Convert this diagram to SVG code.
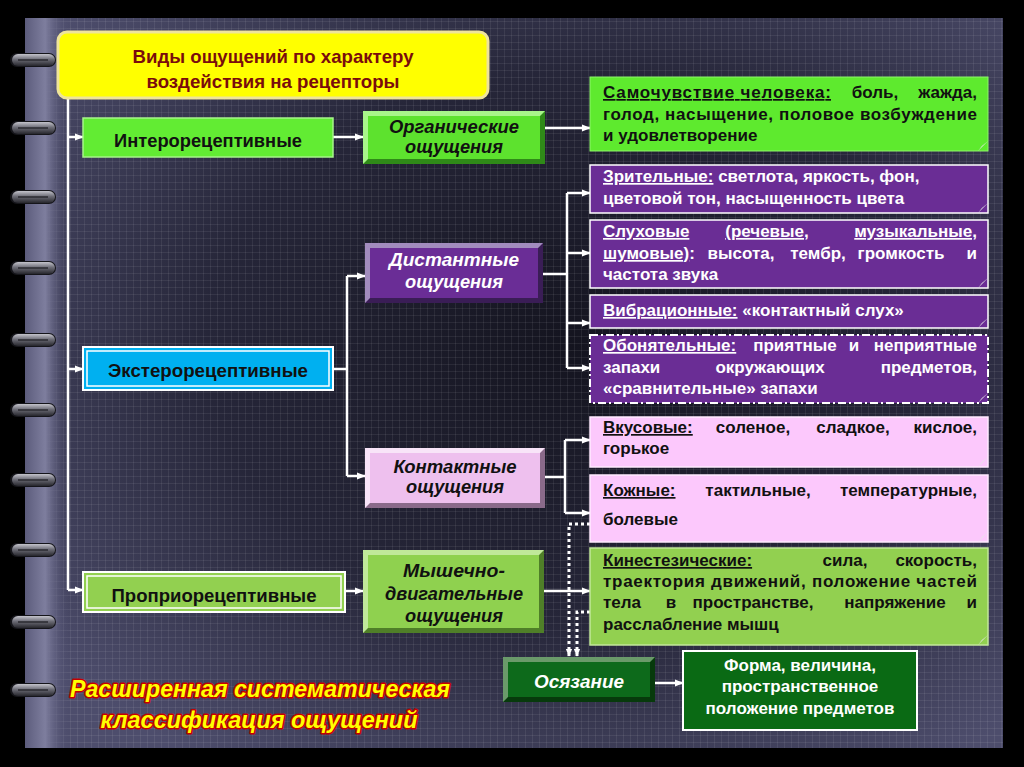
<svg xmlns="http://www.w3.org/2000/svg" width="1024" height="767" viewBox="0 0 1024 767">
<defs>
  <radialGradient id="bg" cx="0.56" cy="0.45" r="0.68">
    <stop offset="0" stop-color="#14141f"/>
    <stop offset="0.55" stop-color="#262639"/>
    <stop offset="1" stop-color="#4d4d6c"/>
  </radialGradient>
  <pattern id="grid" width="7" height="7" patternUnits="userSpaceOnUse">
    <path d="M0 0.5H7M0.5 0V7" stroke="#ffffff" stroke-opacity="0.07" stroke-width="1" fill="none"/>
  </pattern>
  <linearGradient id="spine" x1="0" y1="0" x2="1" y2="0">
    <stop offset="0" stop-color="#5c5c7c"/>
    <stop offset="0.45" stop-color="#7e7e9e"/>
    <stop offset="1" stop-color="#4c4c6c" stop-opacity="0"/>
  </linearGradient>
  <linearGradient id="ringg" x1="0" y1="0" x2="0" y2="1">
    <stop offset="0" stop-color="#c4c4cc"/>
    <stop offset="0.45" stop-color="#6c6c76"/>
    <stop offset="1" stop-color="#26262c"/>
  </linearGradient>
  <g id="ring">
    <rect x="10" y="-7" width="46" height="14" rx="7" fill="#15151a"/>
    <rect x="12" y="-6" width="43" height="12" rx="6" fill="url(#ringg)"/>
    <path d="M18,0 H48" stroke="#2a2a30" stroke-width="1.5"/>
  </g>
  <marker id="ah" viewBox="0 0 10 10" refX="9" refY="5" markerWidth="9" markerHeight="9" markerUnits="userSpaceOnUse" orient="auto">
    <path d="M0,1 L10,5 L0,9 Z" fill="#ffffff"/>
  </marker>
  <marker id="ahs" viewBox="0 0 10 10" refX="9" refY="5" markerWidth="8" markerHeight="8" markerUnits="userSpaceOnUse" orient="auto">
    <path d="M0,1 L10,5 L0,9 Z" fill="#ffffff"/>
  </marker>
</defs>
<style>
  .rt { font-family: "Liberation Sans", Arial, sans-serif; font-weight: bold; font-size: 17px; }
  .bk { fill: #111111; }
  .wh { fill: #ffffff; }
  .u { text-decoration: underline; }
  .c { text-anchor: middle; }
  .e { text-anchor: end; }
  .mid { font-family: "Liberation Sans", Arial, sans-serif; font-weight: bold; font-style: italic; font-size: 18px; text-anchor: middle; }
  .lft { font-family: "Liberation Sans", Arial, sans-serif; font-weight: bold; font-size: 18px; text-anchor: middle; fill: #111111; }
  .ttl { font-family: "Liberation Sans", Arial, sans-serif; font-weight: bold; font-size: 19px; text-anchor: middle; fill: #7a0c0c; }
  .big { font-family: "Liberation Sans", Arial, sans-serif; font-weight: bold; font-style: italic; font-size: 23px; text-anchor: middle; fill: #ffff00; stroke: #c40000; stroke-width: 3; stroke-linejoin: round; paint-order: stroke; }
  .ln { fill: none; stroke: #ffffff; stroke-width: 2.5; }
  .ar { marker-end: url(#ah); }
  .dot { fill: none; stroke: #ffffff; stroke-width: 3; stroke-dasharray: 3 3; marker-end: url(#ahs); }
  .fold { fill: #e6e6e6; }
</style>

<!-- background -->
<rect x="0" y="0" width="1024" height="767" fill="#000000"/>
<rect x="25" y="18" width="978" height="730" fill="url(#bg)"/>
<rect x="25" y="18" width="978" height="730" fill="url(#grid)"/>
<rect x="25" y="18" width="45" height="730" fill="url(#spine)"/>
<use href="#ring" y="60"/>
<use href="#ring" y="128"/>
<use href="#ring" y="197"/>
<use href="#ring" y="268"/>
<use href="#ring" y="340"/>
<use href="#ring" y="410"/>
<use href="#ring" y="480"/>
<use href="#ring" y="550"/>
<use href="#ring" y="622"/>
<use href="#ring" y="690"/>

<!-- connectors -->
<g id="connectors">
  <path class="ln" d="M68,98 V590"/>
  <path class="ln ar" d="M68,137 H83"/>
  <path class="ln ar" d="M68,369 H83"/>
  <path class="ln ar" d="M68,590 H83"/>
  <path class="ln ar" d="M333,137 H363"/>
  <path class="ln ar" d="M545,128 H590"/>
  <path class="ln" d="M333,369 H347 M347,276 V476"/>
  <path class="ln ar" d="M347,276 H365"/>
  <path class="ln ar" d="M347,476 H365"/>
  <path class="ln" d="M543,274 H567 M567,193 V368"/>
  <path class="ln ar" d="M567,193 H590"/>
  <path class="ln ar" d="M567,253 H590"/>
  <path class="ln ar" d="M567,323 H590"/>
  <path class="ln ar" d="M567,368 H590"/>
  <path class="ln" d="M545,477 H565 M565,440 V513"/>
  <path class="ln ar" d="M565,440 H590"/>
  <path class="ln ar" d="M565,513 H590"/>
  <path class="ln ar" d="M345,591 H363"/>
  <path class="ln ar" d="M544,591 H590"/>
  <path class="ln ar" d="M655,683 H683"/>
  <path class="dot" d="M590,524 H569 V656"/>
  <path class="dot" d="M590,612 H577 V656"/>
</g>

<!-- title -->
<g id="title">
  <rect x="58" y="32" width="430" height="66" rx="9" fill="#ffff00" stroke="#efe49a" stroke-width="3"/>
  <text class="ttl" x="273" y="63" textLength="281" lengthAdjust="spacingAndGlyphs">Виды ощущений по характеру</text>
  <text class="ttl" x="273" y="88" textLength="253" lengthAdjust="spacingAndGlyphs">воздействия на рецепторы</text>
</g>

<!-- left column -->
<g id="intero">
  <rect x="83" y="118" width="250" height="39" fill="#62ec33" stroke="#a6f58a" stroke-width="1.5"/>
  <text class="lft" x="208" y="147" textLength="188" lengthAdjust="spacingAndGlyphs">Интерорецептивные</text>
</g>
<g id="extero">
  <rect x="83" y="347" width="250" height="43" fill="#00b0f0" stroke="#ffffff" stroke-width="2"/>
  <rect x="87" y="351" width="242" height="35" fill="none" stroke="#ffffff" stroke-width="1.5"/>
  <text class="lft" x="208" y="377" textLength="200" lengthAdjust="spacingAndGlyphs">Экстерорецептивные</text>
</g>
<g id="proprio">
  <rect x="83" y="572" width="262" height="40" fill="#92d050" stroke="#ffffff" stroke-width="2"/>
  <rect x="87" y="576" width="254" height="32" fill="none" stroke="#ffffff" stroke-width="1.5"/>
  <text class="lft" x="214" y="602" textLength="205" lengthAdjust="spacingAndGlyphs">Проприорецептивные</text>
</g>

<!-- middle column (bevelled) -->
<g id="organic">
  <rect x="363" y="111" width="182" height="53" fill="#a8f58a"/>
  <path d="M545,111 L545,164 L363,164 L368,159 L540,159 L540,116 Z" fill="#2f8a18"/>
  <rect x="368" y="116" width="172" height="43" fill="#5de22e"/>
  <text class="mid bk" x="454" y="133" textLength="130" lengthAdjust="spacingAndGlyphs">Органические</text>
  <text class="mid bk" x="454" y="153" textLength="98" lengthAdjust="spacingAndGlyphs">ощущения</text>
</g>
<g id="distant">
  <rect x="365" y="243" width="178" height="60" fill="#a28cbe"/>
  <path d="M543,243 L543,303 L365,303 L370,298 L538,298 L538,248 Z" fill="#3a1d56"/>
  <rect x="370" y="248" width="168" height="50" fill="#6a2d96"/>
  <text class="mid wh" x="454" y="266" textLength="130" lengthAdjust="spacingAndGlyphs">Дистантные</text>
  <text class="mid wh" x="454" y="288" textLength="98" lengthAdjust="spacingAndGlyphs">ощущения</text>
</g>
<g id="contact">
  <rect x="365" y="448" width="180" height="60" fill="#f8e4f8"/>
  <path d="M545,448 L545,508 L365,508 L370,503 L540,503 L540,453 Z" fill="#8a6a8a"/>
  <rect x="370" y="453" width="170" height="50" fill="#eec0ee"/>
  <text class="mid bk" x="455" y="473" textLength="123" lengthAdjust="spacingAndGlyphs">Контактные</text>
  <text class="mid bk" x="455" y="493" textLength="98" lengthAdjust="spacingAndGlyphs">ощущения</text>
</g>
<g id="muscle">
  <rect x="363" y="550" width="181" height="83" fill="#c0e89a"/>
  <path d="M544,550 L544,633 L363,633 L368,628 L539,628 L539,555 Z" fill="#4f7f28"/>
  <rect x="368" y="555" width="171" height="73" fill="#8fd14f"/>
  <text class="mid bk" x="454" y="577" textLength="102" lengthAdjust="spacingAndGlyphs">Мышечно-</text>
  <text class="mid bk" x="454" y="600" textLength="138" lengthAdjust="spacingAndGlyphs">двигательные</text>
  <text class="mid bk" x="454" y="622" textLength="98" lengthAdjust="spacingAndGlyphs">ощущения</text>
</g>
<g id="touch">
  <rect x="503" y="657" width="152" height="45" fill="#6a9a6a"/>
  <path d="M655,657 L655,702 L503,702 L508,697 L650,697 L650,662 Z" fill="#073a0c"/>
  <rect x="508" y="662" width="142" height="35" fill="#0d6a1b"/>
  <text class="mid wh" x="579" y="688" textLength="90" lengthAdjust="spacingAndGlyphs">Осязание</text>
</g>

<!-- right column -->
<g id="wellbeing">
  <rect x="590" y="77" width="398" height="74" fill="#5eea2e" stroke="#8ef56a" stroke-width="1"/>
  <path class="fold" d="M978,151 L988,141 Q982,145 978,151 Z"/>
  <text class="rt bk u" x="603" y="98" textLength="228" lengthAdjust="spacing">Самочувствие человека:</text>
  <text class="rt bk c" x="875" y="98">боль,</text>
  <text class="rt bk e" x="977" y="98">жажда,</text>
  <text class="rt bk" x="603" y="120" textLength="374" lengthAdjust="spacing">голод, насыщение, половое возбуждение</text>
  <text class="rt bk" x="603" y="141">и удовлетворение</text>
</g>
<g id="visual">
  <rect x="590" y="165" width="398" height="48" fill="#6a2d95" stroke="#ffffff" stroke-width="1.5"/>
  <path class="fold" d="M978,213 L988,203 Q982,207 978,213 Z"/>
  <text class="rt wh" x="603" y="182"><tspan class="u">Зрительные:</tspan> светлота, яркость, фон,</text>
  <text class="rt wh" x="603" y="204">цветовой тон, насыщенность цвета</text>
</g>
<g id="auditory">
  <rect x="590" y="220" width="398" height="68" fill="#6a2d95" stroke="#ffffff" stroke-width="1.5"/>
  <path class="fold" d="M978,288 L988,278 Q982,282 978,288 Z"/>
  <text class="rt wh u" x="603" y="237">Слуховые</text>
  <text class="rt wh u c" x="767" y="237">(речевые,</text>
  <text class="rt wh u e" x="977" y="237">музыкальные,</text>
  <text class="rt wh" x="603" y="259"><tspan class="u">шумовые)</tspan>:</text>
  <text class="rt wh c" x="741" y="259">высота,</text>
  <text class="rt wh c" x="818" y="259">тембр,</text>
  <text class="rt wh c" x="901" y="259">громкость</text>
  <text class="rt wh e" x="977" y="259">и</text>
  <text class="rt wh" x="603" y="280">частота звука</text>
</g>
<g id="vibration">
  <rect x="590" y="295" width="398" height="33" fill="#6a2d95" stroke="#ffffff" stroke-width="1.5"/>
  <path class="fold" d="M978,328 L988,318 Q982,322 978,328 Z"/>
  <text class="rt wh" x="603" y="316"><tspan class="u">Вибрационные:</tspan> «контактный слух»</text>
</g>
<g id="olfactory">
  <rect x="590" y="335" width="398" height="68" fill="#6a2d95" stroke="#ffffff" stroke-width="2" stroke-dasharray="8 3 2 3"/>
  <path class="fold" d="M978,403 L988,393 Q982,397 978,403 Z"/>
  <text class="rt wh u" x="603" y="351">Обонятельные:</text>
  <text class="rt wh c" x="795" y="351">приятные</text>
  <text class="rt wh c" x="854" y="351">и</text>
  <text class="rt wh e" x="977" y="351">неприятные</text>
  <text class="rt wh" x="603" y="373">запахи</text>
  <text class="rt wh c" x="770" y="373">окружающих</text>
  <text class="rt wh e" x="977" y="373">предметов,</text>
  <text class="rt wh" x="603" y="394">«сравнительные» запахи</text>
</g>
<g id="taste">
  <rect x="590" y="417" width="398" height="50" fill="#fcc8fc" stroke="#ffeaff" stroke-width="1.5"/>
  <path class="fold" d="M978,467 L988,457 Q982,461 978,467 Z"/>
  <text class="rt bk u" x="603" y="433">Вкусовые:</text>
  <text class="rt bk c" x="753" y="433">соленое,</text>
  <text class="rt bk c" x="853" y="433">сладкое,</text>
  <text class="rt bk e" x="977" y="433">кислое,</text>
  <text class="rt bk" x="603" y="454">горькое</text>
</g>
<g id="skin">
  <rect x="590" y="475" width="398" height="67" fill="#fcc8fc" stroke="#ffeaff" stroke-width="1.5"/>
  <path class="fold" d="M978,542 L988,532 Q982,536 978,542 Z"/>
  <text class="rt bk u" x="603" y="496">Кожные:</text>
  <text class="rt bk c" x="758" y="496">тактильные,</text>
  <text class="rt bk e" x="977" y="496">температурные,</text>
  <text class="rt bk" x="603" y="525">болевые</text>
</g>
<g id="kinesthetic">
  <rect x="590" y="548" width="398" height="97" fill="#92d050" stroke="#c2e89a" stroke-width="1.5"/>
  <path class="fold" d="M978,645 L988,635 Q982,639 978,645 Z"/>
  <text class="rt bk u" x="603" y="566">Кинестезические:</text>
  <text class="rt bk c" x="845" y="566">сила,</text>
  <text class="rt bk e" x="977" y="566">скорость,</text>
  <text class="rt bk" x="603" y="587" textLength="374" lengthAdjust="spacing">траектория движений, положение частей</text>
  <text class="rt bk" x="603" y="608">тела</text>
  <text class="rt bk c" x="671" y="608">в</text>
  <text class="rt bk c" x="753" y="608">пространстве,</text>
  <text class="rt bk c" x="895" y="608">напряжение</text>
  <text class="rt bk e" x="977" y="608">и</text>
  <text class="rt bk" x="603" y="630">расслабление мышц</text>
</g>
<g id="shape">
  <rect x="683" y="651" width="234" height="79" fill="#0a6a14" stroke="#ffffff" stroke-width="2"/>
  <path class="fold" d="M905,730 L917,718 Q911,724 905,730 Z"/>
  <text class="rt wh c" x="800" y="671">Форма, величина,</text>
  <text class="rt wh c" x="800" y="692">пространственное</text>
  <text class="rt wh c" x="800" y="714">положение предметов</text>
</g>

<!-- caption -->
<g id="caption">
  <text class="big" x="260" y="697" textLength="380" lengthAdjust="spacingAndGlyphs">Расширенная систематическая</text>
  <text class="big" x="259" y="728" textLength="317" lengthAdjust="spacingAndGlyphs">классификация ощущений</text>
</g>
</svg>
